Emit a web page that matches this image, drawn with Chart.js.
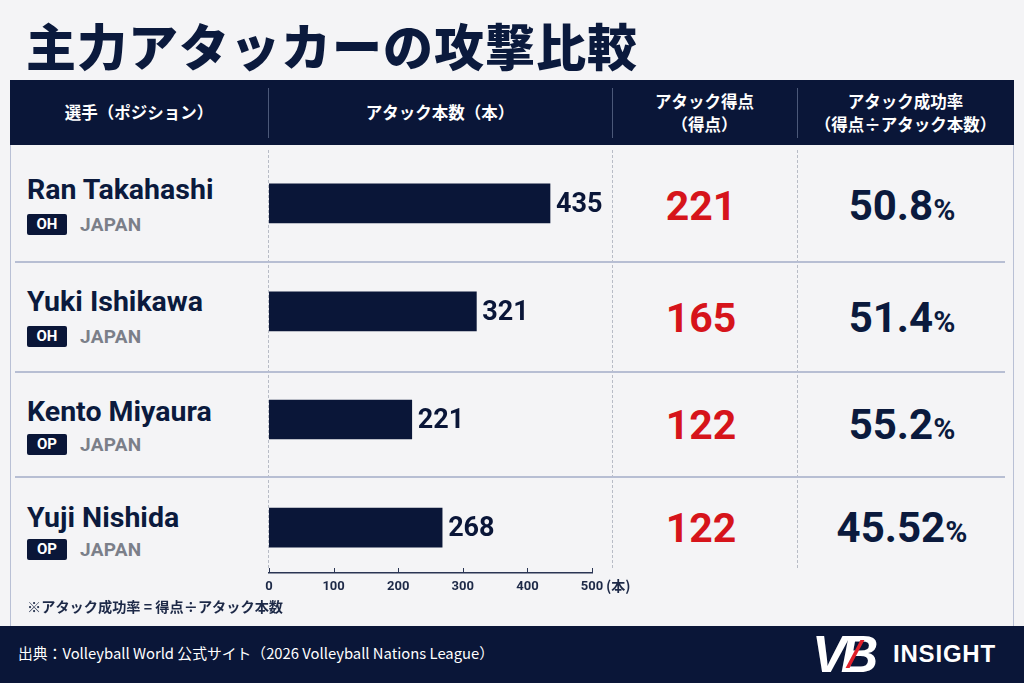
<!DOCTYPE html>
<html lang="ja">
<head>
<meta charset="utf-8">
<title>主力アタッカーの攻撃比較</title>
<script src="https://cdn.jsdelivr.net/npm/chart.js@4.4.1/dist/chart.umd.min.js"></script>
<style>
  html, body { margin: 0; padding: 0; }
  body {
    width: 1024px; height: 683px; overflow: hidden; position: relative;
    background: #f4f4f6;
    font-family: Roboto, "Noto Sans CJK JP", sans-serif;
    color: #0b1a3d;
  }
  .abs { position: absolute; }
  #title {
    left: 26px; top: 14px; font-family: "Noto Sans CJK JP", sans-serif;
    font-weight: 900; font-size: 50px; line-height: 60px; letter-spacing: 1px; color: #0b1a3d;
  }
  #header { left: 10px; top: 80px; width: 1004px; height: 65px; background: #0a1638; }
  .hcell {
    position: absolute; top: 0; height: 65px; display: flex; flex-direction: column;
    align-items: center; justify-content: center; color: #fff;
    font-family: "Noto Sans CJK JP", sans-serif; font-weight: 700; font-size: 16.5px; line-height: 23px;
  }
  .hdiv { position: absolute; top: 8px; width: 1px; height: 50px; background: #4b5878; }
  .frame { top: 145px; width: 1px; height: 481px; background: #b9c0d5; }
  .sep { left: 15px; width: 990px; height: 2px; background: #b7bed3; }
  .vdot { top: 150px; height: 418px; width: 0; border-left: 1px dashed #b8bcc6; }
  .name { left: 27px; font-weight: 700; font-size: 28.5px; line-height: 30px; color: #0b1a3d; }
  .badge {
    left: 27px; width: 40px; height: 21px; background: #0a1638; color: #fff; border-radius: 2px;
    font-weight: 700; font-size: 15px; line-height: 21px; text-align: center;
  }
  .country { left: 80px; font-weight: 700; font-size: 19px; line-height: 21px; color: #7b7f89; letter-spacing: 0.3px; }
  .score { left: 612px; width: 178px; text-align: center; font-weight: 700; font-size: 41px; line-height: 44px; color: #d6141b; }
  .rate { left: 797px; width: 210px; text-align: center; font-weight: 700; font-size: 42px; line-height: 44px; color: #0b1a3d; }
  .rate small { font-size: 30px; }
  #chartBox { left: 258px; top: 145px; width: 390px; height: 460px; }
  #unit { left: 606px; top: 576px; font-family: "Noto Sans CJK JP", sans-serif; font-weight: 700; font-size: 14px; line-height: 18px; color: #1d2947; }
  #note { left: 27px; top: 596px; font-family: "Noto Sans CJK JP", sans-serif; font-weight: 700; font-size: 14.2px; line-height: 20px; color: #1d2947; }
  #footer { left: 0; top: 626px; width: 1024px; height: 57px; background: #0a1638; }
  #source { left: 18px; top: 643px; color: #fff; font-family: "Noto Sans CJK JP", sans-serif; font-size: 14.8px; line-height: 20px; }
  #logo { left: 812px; top: 628px; height: 50px; color: #fff; }
  #logo .vb { position: absolute; left: 0; top: 0; font-family: "Liberation Sans", sans-serif; font-weight: 700; font-style: italic; font-size: 52px; line-height: 52px; letter-spacing: -6px; }
  #logo .slash { position: absolute; left: 41px; top: 12px; width: 4px; height: 28px; background: #e0202a; transform: skewX(-28deg); }
  #logo .ins { position: absolute; left: 81px; top: 12px; font-family: "Liberation Sans", sans-serif; font-weight: 700; font-size: 24px; line-height: 28px; letter-spacing: 0.8px; }
</style>
</head>
<body>

<div id="title" class="abs">主力アタッカーの攻撃比較</div>

<div id="header" class="abs">
  <div class="hcell" style="left:0;width:258px;">選手（ポジション）</div>
  <div class="hcell" style="left:258px;width:344px;">アタック本数（本）</div>
  <div class="hcell" style="left:602px;width:185px;"><div>アタック得点</div><div>（得点）</div></div>
  <div class="hcell" style="left:787px;width:217px;"><div>アタック成功率</div><div>（得点÷アタック本数）</div></div>
  <div class="hdiv" style="left:258px;"></div>
  <div class="hdiv" style="left:602px;"></div>
  <div class="hdiv" style="left:787px;"></div>
</div>

<div class="abs frame" style="left:10px;"></div>
<div class="abs frame" style="left:1013px;"></div>

<div class="abs vdot" style="left:268px;"></div>
<div class="abs vdot" style="left:612px;"></div>
<div class="abs vdot" style="left:797px;"></div>

<div id="rows"></div>

<div id="chartBox" class="abs"><canvas id="chart"></canvas></div>
<div id="unit" class="abs">(本)</div>

<div id="note" class="abs">※アタック成功率 = 得点÷アタック本数</div>

<div id="footer" class="abs"></div>
<div id="source" class="abs">出典：Volleyball World 公式サイト（2026 Volleyball Nations League）</div>
<div id="logo" class="abs">
  <div class="vb">VB</div>
  <div class="slash"></div>
  <div class="ins">INSIGHT</div>
</div>

<script>
const players = ['Ran Takahashi', 'Yuki Ishikawa', 'Kento Miyaura', 'Yuji Nishida'];
const positions = ['OH', 'OH', 'OP', 'OP'];
const countries = ['JAPAN', 'JAPAN', 'JAPAN', 'JAPAN'];
const attacks = [435, 321, 221, 268];
const points = [221, 165, 122, 122];
const successRates = ['50.8', '51.4', '55.2', '45.52'];
const axisTicks = [0, 100, 200, 300, 400, 500];

const NAVY = '#0a1638';

// table rows (text side)
const nameTops = [175, 287, 397, 503];
const badgeTops = [214, 326, 434, 539];
const valueTops = [184, 296, 403, 506];
const sepTops = [261, 371, 476];

function renderRows() {
  const container = document.getElementById('rows');
  let html = '';
  sepTops.forEach(top => {
    html += `<div class="abs sep" style="top:${top}px;"></div>`;
  });
  players.forEach((name, i) => {
    html += `<div class="abs name" style="top:${nameTops[i]}px;">${name}</div>`;
    html += `<div class="abs badge" style="top:${badgeTops[i]}px;">${positions[i]}</div>`;
    html += `<div class="abs country" style="top:${badgeTops[i]}px;">${countries[i]}</div>`;
    html += `<div class="abs score" style="top:${valueTops[i]}px;">${points[i]}</div>`;
    html += `<div class="abs rate" style="top:${valueTops[i]}px;">${successRates[i]}<small>%</small></div>`;
  });
  container.innerHTML = html;
}

// value labels at the end of each bar
const barLabels = {
  id: 'barLabels',
  afterDatasetsDraw(chart) {
    const ctx = chart.ctx;
    const meta = chart.getDatasetMeta(0);
    ctx.save();
    ctx.font = '700 27px Roboto';
    ctx.fillStyle = NAVY;
    ctx.textBaseline = 'middle';
    ctx.textAlign = 'left';
    meta.data.forEach((bar, i) => {
      ctx.fillText(String(attacks[i]), bar.x + 6, bar.y + 2);
    });
    ctx.restore();
  }
};

// small tick marks pointing up from the axis line
const upTicks = {
  id: 'upTicks',
  afterDraw(chart) {
    const ctx = chart.ctx;
    const xScale = chart.scales.x;
    const bottom = chart.chartArea.bottom;
    ctx.save();
    ctx.strokeStyle = '#2a3553';
    ctx.lineWidth = 1;
    xScale.ticks.forEach(t => {
      const px = Math.round(xScale.getPixelForValue(t.value)) + 0.5;
      ctx.beginPath();
      ctx.moveTo(px, bottom);
      ctx.lineTo(px, bottom - 5);
      ctx.stroke();
    });
    ctx.restore();
  }
};

function renderChart() {
  const ctx = document.getElementById('chart').getContext('2d');
  window.myChart = new Chart(ctx, {
    type: 'bar',
    data: {
      datasets: [{
        label: 'アタック本数',
        data: attacks.map((v, i) => ({ x: v, y: i })),
        backgroundColor: NAVY,
        borderWidth: 0,
        barThickness: 39
      }]
    },
    options: {
      indexAxis: 'y',
      responsive: true,
      maintainAspectRatio: false,
      animation: false,
      layout: { padding: { left: 11, right: 56, top: 0, bottom: 0 } },
      scales: {
        y: {
          type: 'linear',
          display: false,
          reverse: true,
          offset: false,
          min: -0.54,
          max: 3.42
        },
        x: {
          type: 'linear',
          min: 0,
          max: 500,
          afterBuildTicks: scale => {
            scale.ticks = axisTicks.map(v => ({ value: v }));
          },
          afterFit: scale => {
            scale.height = 32;
            scale.paddingLeft = 0;
            scale.paddingRight = 0;
          },
          grid: { display: false, drawTicks: false },
          border: { display: true, color: '#2a3553', width: 1.5 },
          ticks: {
            padding: 6,
            color: '#1d2947',
            font: { family: 'Roboto', weight: '700', size: 13 }
          }
        }
      },
      plugins: {
        legend: { display: false },
        tooltip: { enabled: false }
      }
    },
    plugins: [barLabels, upTicks]
  });
}

renderRows();
renderChart();
</script>
</body>
</html>
